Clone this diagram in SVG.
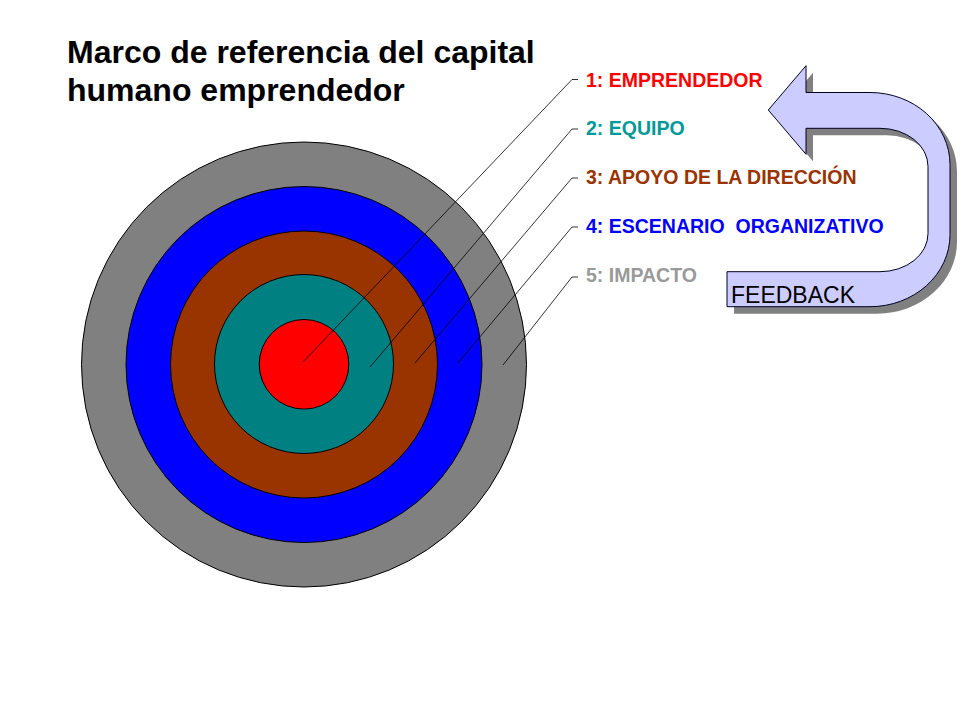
<svg xmlns="http://www.w3.org/2000/svg" width="960" height="720" viewBox="0 0 960 720">
  <style>
    .title { font-family: "Liberation Sans", Arial, sans-serif; font-weight: bold; font-size: 32px; fill: #000000; }
    .lbl { font-family: "Liberation Sans", Arial, sans-serif; font-weight: bold; font-size: 19.5px; white-space: pre; }
    .ring { stroke: #000000; stroke-width: 1; }
    .leader { fill: none; stroke: #000000; stroke-width: 0.8; }
    .fb { font-family: "Liberation Sans", Arial, sans-serif; font-size: 23px; fill: #000000; }
  </style>
  <defs>
    <path id="uturn" d="M 768.3,110 L 806,65.7 L 806,92.5 H 870 A 80 72 0 0 1 950 164.5 V 234.7 A 80 72 0 0 1 870 306.7 H 727 V 271.7 H 880 A 48 38 0 0 0 928 233.7 V 166.3 A 48 38 0 0 0 880 128.3 H 806 V 154.3 Z"/>
  </defs>
  <rect x="0" y="0" width="960" height="720" fill="#ffffff"/>

  <g id="title">
    <text class="title" x="67" y="63">Marco de referencia del capital</text>
    <text class="title" x="67" y="101">humano emprendedor</text>
  </g>

  <g id="ring-5-impacto"><circle class="ring" cx="304" cy="364.5" r="222.5" fill="#808080"/></g>
  <g id="ring-4-escenario"><circle class="ring" cx="304" cy="364.5" r="178" fill="#0000FF"/></g>
  <g id="ring-3-apoyo"><circle class="ring" cx="304" cy="364.5" r="133.5" fill="#993300"/></g>
  <g id="ring-2-equipo"><circle class="ring" cx="304" cy="364" r="89.5" fill="#008080"/></g>
  <g id="ring-1-emprendedor"><circle class="ring" cx="304" cy="364.3" r="44.8" fill="#FF0000"/></g>

  <g id="connectors">
    <polyline class="leader" points="578,79.5 572,79.5 303,362"/>
    <polyline class="leader" points="578,129 572,129 370,367"/>
    <polyline class="leader" points="578,178 572,178 415,363"/>
    <polyline class="leader" points="578,227 572,227 458,363"/>
    <polyline class="leader" points="578,277 572,277 503,365"/>
  </g>

  <g id="labels">
    <text class="lbl" x="586" y="86.7" fill="#FF0000">1: EMPRENDEDOR</text>
    <text class="lbl" x="586" y="135.4" fill="#009999">2: EQUIPO</text>
    <text class="lbl" x="586" y="184.1" fill="#993300">3: APOYO DE LA DIRECCIÓN</text>
    <text class="lbl" x="586" y="232.8" fill="#0000FF" xml:space="preserve">4: ESCENARIO  ORGANIZATIVO</text>
    <text class="lbl" x="586" y="281.5" fill="#999999">5: IMPACTO</text>
  </g>

  <g id="feedback">
    <use href="#uturn" transform="translate(7,7)" fill="#808080"/>
    <use href="#uturn" fill="#CCCCFF" stroke="#000022" stroke-width="1"/>
    <text class="fb" x="731" y="303.3">FEEDBACK</text>
  </g>
</svg>
